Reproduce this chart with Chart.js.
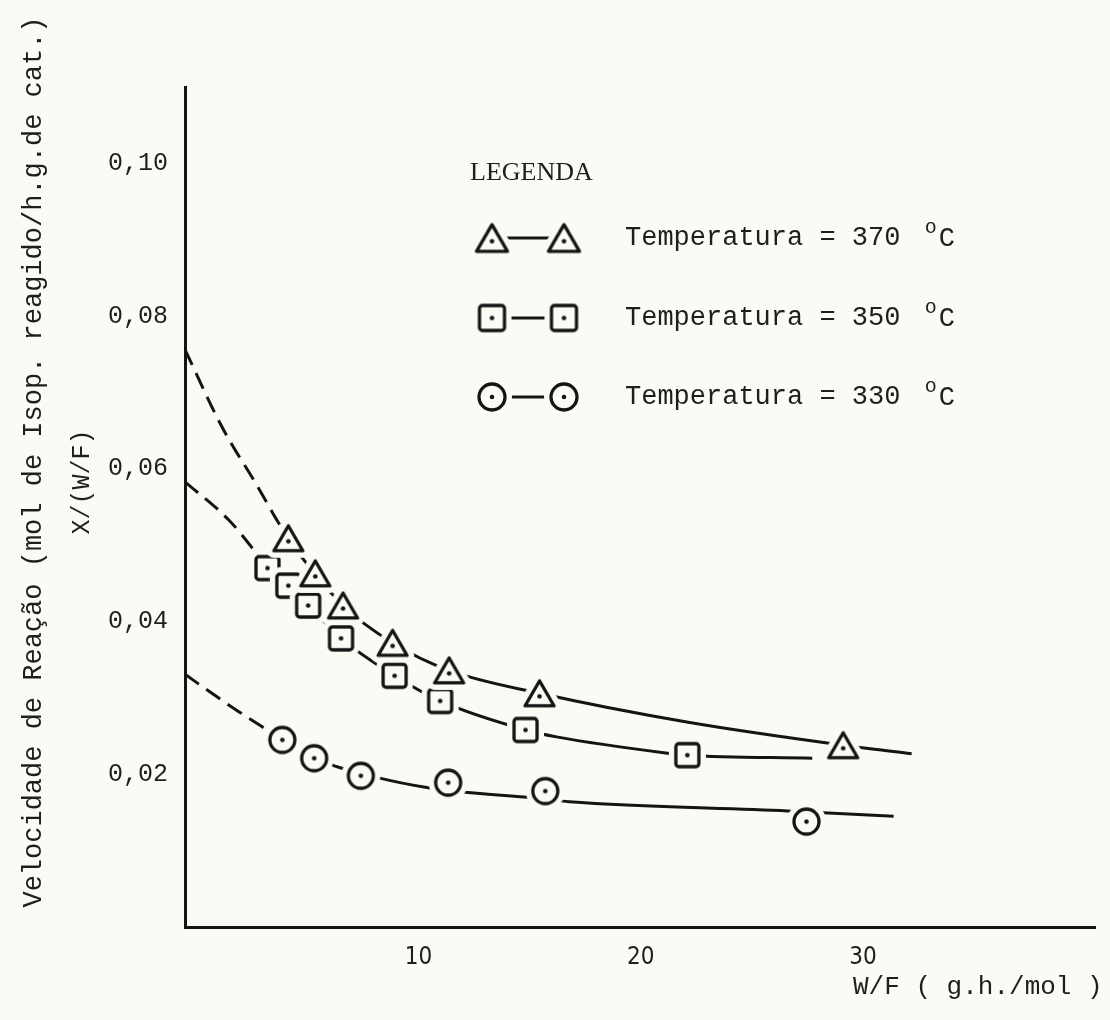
<!DOCTYPE html>
<html>
<head>
<meta charset="utf-8">
<script src="https://cdn.jsdelivr.net/npm/chart.js@4.4.1/dist/chart.umd.min.js"></script>
<style>
  html, body { margin: 0; padding: 0; background: #fbfbf6; }
</style>
</head>
<body>
<canvas id="rateChart" width="1110" height="1020"></canvas>
<script>
// Pontos experimentais: W/F (g.h/mol) e X/(W/F)
const wf370 = [4.15, 5.36, 6.61, 8.84, 11.38, 15.45, 29.11];
const rate370 = [0.0509, 0.0463, 0.0421, 0.0372, 0.0336, 0.0306, 0.0238];
const wf350 = [3.21, 4.15, 5.04, 6.52, 8.93, 10.98, 14.82, 22.10];
const rate350 = [0.0470, 0.0447, 0.0421, 0.0378, 0.0329, 0.0296, 0.0258, 0.0225];
const wf330 = [3.88, 5.31, 7.41, 11.34, 15.71, 27.46];
const rate330 = [0.0245, 0.0221, 0.0198, 0.0189, 0.0178, 0.0138];

// Curvas traçadas à mão (vértices ao longo de cada traço), partindo do eixo
const curveWf370 = [-0.5, 1.16, 2.68, 4.15, 6.61, 8.84, 11.38, 15.45, 22.14, 29.11, 32.19];
const curveRate370 = [0.0756, 0.0655, 0.0581, 0.0509, 0.0421, 0.0372, 0.0336, 0.0306, 0.0268, 0.0238, 0.0227];
const curveWf350 = [-0.5, 1.47, 2.59, 3.21, 5.04, 6.52, 8.93, 10.98, 14.82, 16.21, 21.12, 22.10, 27.72];
const curveRate350 = [0.0583, 0.0533, 0.0494, 0.0470, 0.0421, 0.0378, 0.0329, 0.0296, 0.0258, 0.0249, 0.0228, 0.0225, 0.0221];
const curveWf330 = [-0.5, 0.71, 1.92, 3.04, 4.46, 5.85, 8.26, 10.31, 11.88, 15.18, 16.79, 26.61, 31.38];
const curveRate330 = [0.0331, 0.0306, 0.0282, 0.0261, 0.0235, 0.0215, 0.0195, 0.0183, 0.0177, 0.0169, 0.0164, 0.0152, 0.0145];

// Escalas
const xTicks = [10, 20, 30];
const xTickLabels = ['10', '20', '30'];
const yTicks = [0.02, 0.04, 0.06, 0.08, 0.10];
const yTickLabels = ['0,02', '0,04', '0,06', '0,08', '0,10'];

const legendItems = ['Temperatura = 370', 'Temperatura = 350', 'Temperatura = 330'];
const yTitle = 'Velocidade de Reação (mol de Isop. reagido/h.g.de cat.)';
const yTitle2 = 'X/(W/F)';
const xTitle = 'W/F ( g.h./mol )';

const INK = '#141414';
const PAPER = '#fbfbf6';
const TEXT = '#1e1e1e';
const MONO = '"Liberation Mono", "DejaVu Sans Mono", monospace';

// símbolo com halo da cor do papel, para a linha parar antes do marcador
function markerCanvas(shape, s) {
    const pad = 9;
    const size = s + pad * 2;
    const c = document.createElement('canvas');
    c.width = c.height = size;
    const g = c.getContext('2d');
    const m = size / 2;
    const h = s * 0.86;
    const path = () => {
        g.beginPath();
        if (shape === 'triangle') {
            g.moveTo(m, m - h / 2);
            g.lineTo(m + s / 2, m + h / 2);
            g.lineTo(m - s / 2, m + h / 2);
            g.closePath();
        } else if (shape === 'square') {
            g.roundRect(m - s / 2, m - s / 2, s, s, 3);
        } else {
            g.arc(m, m, s / 2, 0, Math.PI * 2);
        }
    };
    g.lineJoin = 'round';
    path();
    g.lineWidth = 14;
    g.strokeStyle = PAPER;
    g.stroke();
    g.fillStyle = PAPER;
    g.fill();
    path();
    g.lineWidth = 3.3;
    g.strokeStyle = INK;
    g.stroke();
    g.beginPath();
    g.arc(m, shape === 'triangle' ? m + h * 0.12 : m, 2.3, 0, Math.PI * 2);
    g.fillStyle = INK;
    g.fill();
    return c;
}

const triImg = markerCanvas('triangle', 29);
const sqImg = markerCanvas('square', 23);
const cirImg = markerCanvas('circle', 25);
// na legenda os símbolos são um pouco maiores
const legendImgs = [markerCanvas('triangle', 31), markerCanvas('square', 25), markerCanvas('circle', 26)];

function pts(xs, ys) {
    return xs.map((x, i) => ({ x: x, y: ys[i] }));
}

function markerSet(xs, ys, img) {
    return {
        data: pts(xs, ys),
        showLine: false,
        pointStyle: img,
        pointRadius: 14,
        order: 0
    };
}

// trecho tracejado até o primeiro ponto medido
function curveSet(xs, ys, dashUntil) {
    return {
        data: pts(xs, ys),
        showLine: true,
        borderColor: INK,
        borderWidth: 3,
        pointRadius: 0,
        cubicInterpolationMode: 'monotone',
        fill: false,
        order: 1,
        segment: {
            borderDash: ctx => ctx.p1.parsed.x <= dashUntil ? [17, 9] : []
        }
    };
}

const annotations = {
    id: 'annotations',
    afterDraw(chart) {
        const ctx = chart.ctx;
        ctx.save();
        ctx.fillStyle = TEXT;
        ctx.textBaseline = 'middle';

        // títulos do eixo vertical
        ctx.font = '27px ' + MONO;
        ctx.textAlign = 'center';
        ctx.save();
        ctx.translate(34, 462);
        ctx.rotate(-Math.PI / 2);
        ctx.fillText(yTitle, 0, 0);
        ctx.restore();
        ctx.font = '25px ' + MONO;
        ctx.save();
        ctx.translate(82, 482);
        ctx.rotate(-Math.PI / 2);
        ctx.fillText(yTitle2, 0, 0);
        ctx.restore();

        // título do eixo horizontal
        ctx.textAlign = 'left';
        ctx.font = '26px ' + MONO;
        ctx.fillText(xTitle, 853, 987);

        // legenda
        ctx.font = '26px "Liberation Serif", serif';
        ctx.fillText('LEGENDA', 470, 173);
        const rows = [238, 318, 397];
        rows.forEach((y, i) => {
            ctx.strokeStyle = INK;
            ctx.lineWidth = 3;
            ctx.beginPath();
            ctx.moveTo(500, y);
            ctx.lineTo(556, y);
            ctx.stroke();
            [492, 564].forEach(x => {
                const im = legendImgs[i];
                ctx.drawImage(im, x - im.width / 2, y - im.height / 2);
            });
            ctx.fillStyle = TEXT;
            ctx.font = '27px ' + MONO;
            ctx.fillText(legendItems[i], 625, y);
            const w = ctx.measureText(legendItems[i] + ' ').width;
            ctx.font = '20px ' + MONO;
            ctx.fillText('o', 625 + w + 8, y - 10);
            ctx.font = '27px ' + MONO;
            ctx.fillText('C', 625 + w + 22, y + 1);
        });
        ctx.restore();
    }
};

new Chart(document.getElementById('rateChart'), {
    type: 'scatter',
    data: {
        datasets: [
            markerSet(wf370, rate370, triImg),
            markerSet(wf350, rate350, sqImg),
            markerSet(wf330, rate330, cirImg),
            curveSet(curveWf370, curveRate370, 4.2),
            curveSet(curveWf350, curveRate350, 3.3),
            curveSet(curveWf330, curveRate330, 4.5)
        ]
    },
    options: {
        responsive: false,
        devicePixelRatio: 1,
        animation: false,
        events: [],
        layout: { padding: { top: 87, right: 8, left: 0, bottom: 0 } },
        plugins: {
            legend: { display: false },
            tooltip: { enabled: false }
        },
        scales: {
            x: {
                type: 'linear',
                min: -0.5,
                max: 40.44,
                grid: { display: false, drawTicks: false },
                border: { color: INK, width: 3 },
                afterBuildTicks: scale => { scale.ticks = xTicks.map(v => ({ value: v })); },
                afterFit: scale => { scale.height = 93; },
                ticks: {
                    padding: 16,
                    color: TEXT,
                    font: { family: '"Liberation Sans Narrow", "DejaVu Sans Condensed", sans-serif', size: 24 },
                    callback: v => xTickLabels[xTicks.indexOf(v)]
                }
            },
            y: {
                min: 0,
                max: 0.11,
                grid: { display: false, drawTicks: false },
                border: { color: INK, width: 3 },
                afterBuildTicks: scale => { scale.ticks = yTicks.map(v => ({ value: v })); },
                afterFit: scale => { scale.width = 185; },
                ticks: {
                    padding: 17,
                    color: TEXT,
                    font: { family: MONO, size: 25 },
                    callback: v => yTickLabels[yTicks.indexOf(v)]
                }
            }
        }
    },
    plugins: [annotations]
});
</script>
</body>
</html>
